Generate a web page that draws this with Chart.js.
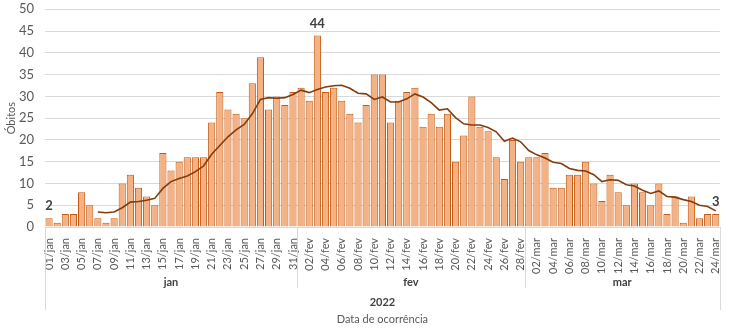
<!DOCTYPE html>
<html lang="pt">
<head>
<meta charset="utf-8">
<script src="https://cdn.jsdelivr.net/npm/chart.js@4.4.0/dist/chart.umd.min.js"></script>
<style>
  html, body { margin: 0; padding: 0; background: #fff; }
  #wrap { width: 732px; height: 332px; }
</style>
</head>
<body>
<div id="wrap"><canvas id="c" width="732" height="332"></canvas></div>
<script>
// Categorias
const meses = ["jan", "fev", "mar"];
const diasPorMes = [31, 28, 24];
const ano = "2022";

// Óbitos diários
const obitosJan = [2, 1, 3, 3, 8, 5, 2, 1, 2, 10, 12, 9, 7, 5, 17, 13, 15, 16, 16, 16, 24, 31, 27, 26, 25, 33, 39, 27, 30, 28, 31];
const obitosFev = [32, 29, 44, 31, 32, 29, 26, 24, 28, 35, 35, 24, 29, 31, 32, 23, 26, 23, 26, 15, 21, 30, 23, 22, 16, 11, 20, 15];
const obitosMar = [16, 16, 17, 9, 9, 12, 12, 15, 10, 6, 12, 8, 5, 10, 8, 5, 10, 3, 7, 1, 7, 2, 3, 3];

// Média móvel 7 dias (linha de tendência)
const mmJan = [null, null, null, null, null, null, 3.43, 3.29, 3.43, 4.43, 5.71, 5.86, 6.14, 6.57, 8.86, 10.43, 11.14, 11.71, 12.71, 14.00, 16.71, 18.71, 20.71, 22.29, 23.57, 26.00, 29.29, 29.71, 29.57, 29.71, 30.43];
const mmFev = [31.43, 30.86, 31.57, 32.14, 32.43, 32.57, 31.86, 30.71, 30.57, 29.29, 29.86, 28.71, 28.71, 29.43, 30.57, 29.86, 28.57, 26.86, 27.14, 25.14, 23.71, 23.43, 23.43, 22.86, 21.86, 19.71, 20.43, 19.57];
const mmMar = [17.57, 16.57, 15.86, 14.86, 14.57, 13.43, 13.00, 12.86, 12.00, 10.43, 10.86, 10.71, 9.71, 9.43, 8.43, 7.71, 8.29, 7.00, 6.86, 6.29, 5.86, 5.00, 4.71, 3.71];

// Rótulos de dados mostrados (primeiro, máximo, último)
const rotulosIdx = [0, 33, 82];

const FONT = "Lato, 'Liberation Sans', sans-serif";

const labels = [];
meses.forEach((m, k) => {
  for (let d = 1; d <= diasPorMes[k]; d++) labels.push(String(d).padStart(2, "0") + "/" + m);
});
const obitos = [...obitosJan, ...obitosFev, ...obitosMar];
const mediaMovel = [...mmJan, ...mmFev, ...mmMar];

// Rótulos de valor acima das barras
const valueLabels = {
  id: "valueLabels",
  afterDatasetsDraw(chart) {
    const ctx = chart.ctx;
    const meta = chart.getDatasetMeta(1);
    ctx.save();
    ctx.font = "bold 13px " + FONT;
    ctx.fillStyle = "#404040";
    ctx.textAlign = "center";
    ctx.textBaseline = "middle";
    for (const i of rotulosIdx) {
      const el = meta.data[i];
      ctx.fillText(String(obitos[i]), el.x, el.y - 12);
    }
    ctx.restore();
  }
};

// Eixo de categorias em vários níveis (mês / ano / título)
const multiLevelAxis = {
  id: "multiLevelAxis",
  afterDraw(chart) {
    const ctx = chart.ctx;
    const xs = chart.scales.x;
    const area = chart.chartArea;
    const y0 = area.bottom;
    ctx.save();
    ctx.strokeStyle = "#d9d9d9";
    ctx.lineWidth = 1;

    const bounds = [area.left];
    let acc = 0;
    for (let k = 0; k < diasPorMes.length - 1; k++) {
      acc += diasPorMes[k];
      bounds.push((xs.getPixelForValue(acc - 1) + xs.getPixelForValue(acc)) / 2);
    }
    bounds.push(area.right);

    bounds.forEach((bx, k) => {
      const outer = k === 0 || k === bounds.length - 1;
      const x = Math.round(bx) + 0.5;
      ctx.beginPath();
      ctx.moveTo(x, y0);
      ctx.lineTo(x, outer ? y0 + 83 : y0 + 61);
      ctx.stroke();
    });

    ctx.textAlign = "center";
    ctx.textBaseline = "middle";
    ctx.fillStyle = "#404040";
    ctx.font = "bold 11px " + FONT;
    meses.forEach((m, k) => {
      ctx.fillText(m, (bounds[k] + bounds[k + 1]) / 2, y0 + 55);
    });
    ctx.fillText(ano, (area.left + area.right) / 2, y0 + 75);

    ctx.fillStyle = "#595959";
    ctx.font = "11px " + FONT;
    ctx.fillText("Data de ocorrência", (area.left + area.right) / 2, y0 + 92);
    ctx.restore();
  }
};

new Chart(document.getElementById("c"), {
  type: "bar",
  data: {
    labels: labels,
    datasets: [
      {
        type: "line",
        label: "Média móvel (7 dias)",
        data: mediaMovel,
        borderColor: "#843C0C",
        borderWidth: 1.6,
        pointRadius: 0,
        pointHoverRadius: 0,
        tension: 0,
        spanGaps: false,
        order: 0
      },
      {
        label: "Óbitos",
        data: obitos,
        backgroundColor: "#F4B183",
        borderColor: "#C55A11",
        borderWidth: 1,
        barPercentage: 0.88,
        categoryPercentage: 1,
        order: 1
      }
    ]
  },
  options: {
    responsive: false,
    animation: false,
    devicePixelRatio: 1,
    layout: { autoPadding: false, padding: { left: 0, right: 8, top: 0, bottom: 0 } },
    plugins: {
      legend: { display: false },
      tooltip: { enabled: false }
    },
    scales: {
      x: {
        grid: { display: false },
        border: { display: false },
        ticks: {
          autoSkip: false,
          maxRotation: 90,
          minRotation: 90,
          padding: 3,
          color: "#595959",
          font: { family: FONT, size: 11 },
          callback: (v, i) => (i % 2 === 0 ? labels[i] : "")
        },
        afterFit: s => { s.height = 105; }
      },
      y: {
        min: 0,
        max: 50,
        ticks: {
          stepSize: 5,
          padding: 1.5,
          color: "#595959",
          font: { family: FONT, size: 13 }
        },
        grid: { color: "#d9d9d9", drawTicks: true, tickLength: 9.5, tickColor: "rgba(0,0,0,0)" },
        border: { display: false },
        title: {
          display: true,
          text: "Óbitos",
          color: "#595959",
          font: { family: FONT, size: 11 },
          padding: { top: 5, bottom: 0 }
        },
        afterFit: s => { s.width = 45; }
      }
    }
  },
  plugins: [valueLabels, multiLevelAxis]
});
</script>
</body>
</html>
